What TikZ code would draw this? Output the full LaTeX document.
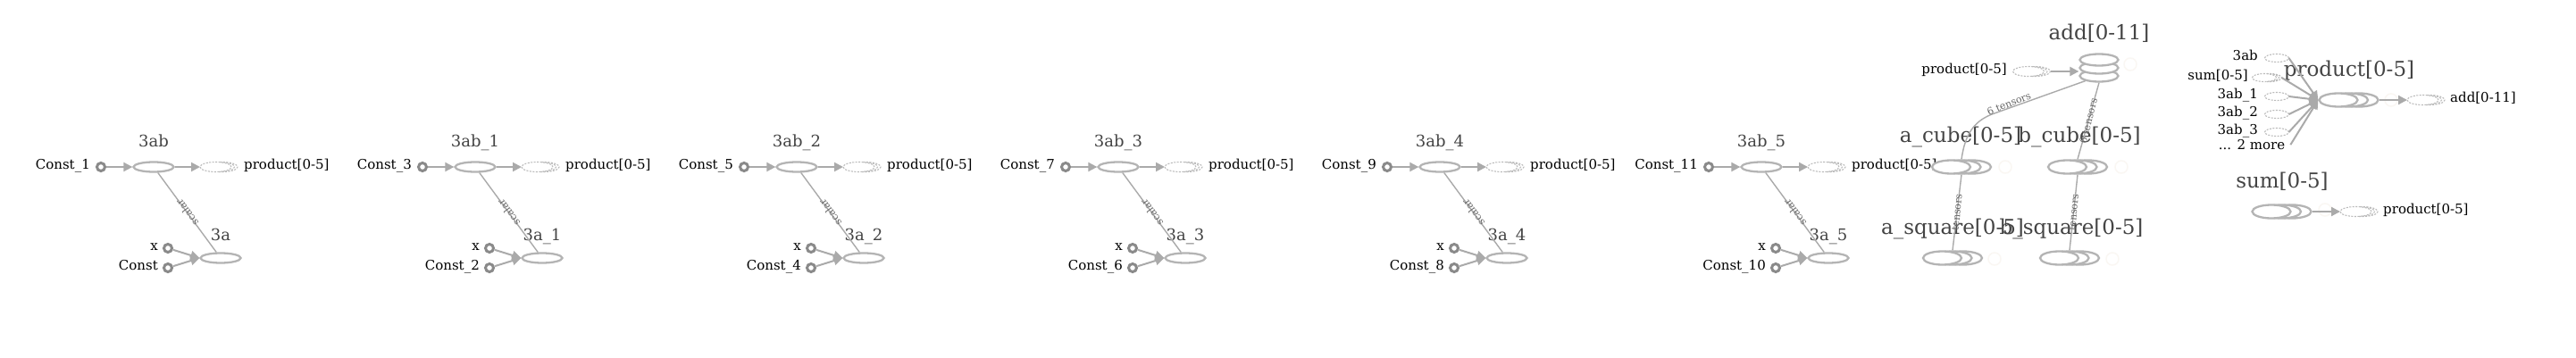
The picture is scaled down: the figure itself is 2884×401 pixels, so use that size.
\documentclass[tikz,border=0pt]{standalone}
\usepackage{fontspec}
\setmainfont{DejaVu Serif}
\usetikzlibrary{shapes.geometric,arrows.meta}
\definecolor{opc}{HTML}{B4B4B4}
\definecolor{ec}{HTML}{AAAAAA}
\definecolor{cc}{HTML}{8A8A8A}
\definecolor{dc}{HTML}{BBBBBB}
\definecolor{gl}{HTML}{444444}
\definecolor{el}{HTML}{666666}
\definecolor{fb}{HTML}{FAF7F3}
\newcommand\dashser[3]{%
  \node[dop] (#1) at (#2,#3) {};
  \draw[darc] ([xshift=3.5pt]#1.south) arc[start angle=-90,end angle=90,x radius=17.5pt,y radius=5.5pt];
  \draw[darc] ([xshift=7pt]#1.south) arc[start angle=-90,end angle=90,x radius=17.5pt,y radius=5.5pt];
}
\newcommand\solser[3]{%
  \node[ser] (#1c) at (#2+23,#3) {};
  \node[ser] (#1b) at (#2+11.5,#3) {};
  \node[ser] (#1a) at (#2,#3) {};
}
\begin{document}
\begin{tikzpicture}[x=1pt,y=-1pt,
  op/.style={ellipse, draw=opc, line width=2.3pt, fill=white, minimum width=45pt, minimum height=11pt, inner sep=0pt},
  addop/.style={ellipse, draw=opc, line width=2.3pt, fill=white, minimum width=43pt, minimum height=13pt, inner sep=0pt},
  ser/.style={ellipse, draw=opc, line width=2.3pt, fill=white, minimum width=43pt, minimum height=15pt, inner sep=0pt},
  dop/.style={ellipse, draw=dc, line width=1.1pt, dash pattern=on 2pt off 1.5pt, minimum width=35pt, minimum height=11pt, inner sep=0pt, outer sep=0pt},
  sdop/.style={ellipse, draw=dc, line width=1.1pt, dash pattern=on 2pt off 1.5pt, minimum width=27pt, minimum height=9pt, inner sep=0pt, outer sep=0pt},
  darc/.style={draw=dc, line width=1.1pt, dash pattern=on 2pt off 1.5pt},
  cn/.style={circle, draw=cc, line width=3pt, fill=white, minimum size=9pt, inner sep=0pt},
  lbl/.style={font=\fontsize{15}{17}\selectfont, text=black, inner sep=0pt},
  slbl/.style={font=\fontsize{15}{17}\selectfont, text=black, inner sep=0pt},
  glbl/.style={font=\fontsize{18}{20}\selectfont, text=gl, inner sep=0pt},
  bigl/.style={font=\fontsize{23}{26}\selectfont, text=gl, inner sep=0pt},
  conn/.style={draw=ec, line width=2pt},
  tconn/.style={draw=ec, line width=1.4pt},
  arr/.style={-{Triangle[length=10pt,width=10pt]}},
  elbl/.style={font=\fontsize{11}{12}\selectfont, text=el, inner sep=0pt},
  btn/.style={circle, draw=fb, line width=1.5pt, minimum size=14pt, inner sep=0pt}]
\useasboundingbox (0,0) rectangle (2884,401);
\fill[white] (0,0) rectangle (2884,401);

\foreach \i/\ca/\cb/\s in {0/Const\_1/Const/{},1/Const\_3/Const\_2/\_1,2/Const\_5/Const\_4/\_2,3/Const\_7/Const\_6/\_3,4/Const\_9/Const\_8/\_4,5/Const\_11/Const\_10/\_5}{
  \pgfmathsetmacro\dx{360*\i}
  \node[cn] (c1\i) at (113+\dx,187) {};
  \node[lbl, anchor=mid east] (c1l\i) at (101+\dx,187) {\ca};
  \node[op] (ab\i) at (172+\dx,187) {};
  \node[glbl, anchor=mid] (abl\i) at (172+\dx,162) {3ab\s};
  \dashser{p\i}{241.5+\dx}{187}
  \node[lbl, anchor=mid west] (pl\i) at (273+\dx,187) {product[0-5]};
  \node[op] (a\i) at (247+\dx,289) {};
  \node[glbl, anchor=mid] (al\i) at (247+\dx,267) {3a\s};
  \node[cn] (x\i) at (188+\dx,278) {};
  \node[lbl, anchor=mid east] (xl\i) at (177+\dx,278) {x};
  \node[cn] (k\i) at (188+\dx,300) {};
  \node[lbl, anchor=mid east] (kl\i) at (177+\dx,300) {\cb};
  \draw[conn,arr] (c1\i) -- (ab\i);
  \draw[conn,arr] (ab\i) -- (p\i.west);
  \draw[conn,arr] (x\i) -- (a\i.west);
  \draw[conn,arr] (k\i) -- (a\i.west);
  \draw[tconn] (a\i) -- (ab\i) node[midway, elbl, rotate=126.3] (sl\i) {scalar};
}

% add stack
\node[addop] (add3) at (2350,85) {};
\node[addop] (add2) at (2350,76) {};
\node[addop] (add1) at (2350,67) {};
\node[bigl, anchor=mid] (addl) at (2350,42) {add[0-11]};
\node[btn] (b7) at (2385,72) {};
\dashser{pa}{2271}{80}
\node[lbl, anchor=mid east] (pal) at (2247,80) {product[0-5]};
\draw[conn,arr] ([xshift=7pt]pa.east) -- (pa.east -| add2.west);

% cubes and squares
\node[bigl, anchor=mid] (acl) at (2195,157) {a\_cube[0-5]};
\node[bigl, anchor=mid] (bcl) at (2328,157) {b\_cube[0-5]};
\node[bigl, anchor=mid] (asl) at (2186,260) {a\_square[0-5]};
\node[bigl, anchor=mid] (bsl) at (2319,260) {b\_square[0-5]};
\solser{ac}{2184.5}{187}
\solser{bc}{2314.5}{187}
\solser{as}{2174.5}{289}
\solser{bs}{2305.5}{289}
\node[btn] (b1) at (2245,187) {};
\node[btn] (b2) at (2375,187) {};
\node[btn] (b3) at (2233,290) {};
\node[btn] (b4) at (2365,290) {};

\draw[tconn] (acb.north) .. controls (2200,150) and (2210,136) .. (2230,128) -- (add3.200)
  node[pos=0.2, elbl, rotate=22, above=0pt] (t1) {6 tensors};
\draw[tconn] (bcb.north) -- (add3.south) node[midway, elbl, rotate=76] (t2) {6 tensors};
\draw[tconn] (asb.north) -- (acb.south) node[midway, elbl, rotate=84.6] (t3) {tensors};
\draw[tconn] (bsb.north) -- (bcb.south) node[midway, elbl, rotate=84.6] (t4) {tensors};

% product group
\node[bigl, anchor=mid] (prl) at (2630,83) {product[0-5]};
\solser{pr}{2618}{112}
\node[btn] (b5) at (2677,112) {};
\dashser{pd}{2712.5}{112}
\node[lbl, anchor=mid west] (pdl) at (2743,112) {add[0-11]};
\draw[conn,arr] (prc.east) -- (pd.west);

\node[sdop] (i1) at (2549,65) {};
\node[sdop] (i2) at (2535,87) {};
\draw[darc] ([xshift=3pt]i2.south) arc[start angle=-90,end angle=90,x radius=13.5pt,y radius=4.5pt];
\draw[darc] ([xshift=6pt]i2.south) arc[start angle=-90,end angle=90,x radius=13.5pt,y radius=4.5pt];
\node[sdop] (i3) at (2549,108) {};
\node[sdop] (i4) at (2549,128) {};
\node[sdop] (i5) at (2549,148) {};
\node[slbl, anchor=mid east] (i1l) at (2528,65) {3ab};
\node[slbl, anchor=mid east] (i2l) at (2517,87) {sum[0-5]};
\node[slbl, anchor=mid east] (i3l) at (2528,108) {3ab\_1};
\node[slbl, anchor=mid east] (i4l) at (2528,128) {3ab\_2};
\node[slbl, anchor=mid east] (i5l) at (2528,148) {3ab\_3};
\node[slbl, anchor=mid] (more) at (2521,165) {... 2 more};
\draw[conn,arr] (i1.east) -- (pra.west);
\draw[conn,arr] ([xshift=6pt]i2.east) -- (pra.west);
\draw[conn,arr] (i3.east) -- (pra.west);
\draw[conn,arr] (i4.east) -- (pra.west);
\draw[conn,arr] (i5.east) -- (pra.west);
\draw[conn,arr] ([xshift=6pt]more.east) -- (pra.west);

% sum group
\node[bigl, anchor=mid] (sul) at (2555,208) {sum[0-5]};
\solser{su}{2543}{237}
\node[btn] (b6) at (2603,235) {};
\dashser{sp}{2637.5}{237}
\node[lbl, anchor=mid west] (spl) at (2668,237) {product[0-5]};
\draw[conn,arr] (suc.east) -- (sp.west);
\end{tikzpicture}
\end{document}
